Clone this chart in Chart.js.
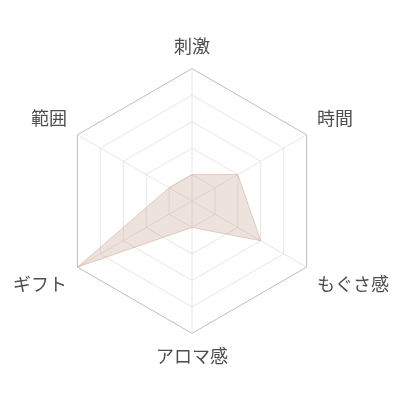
<!DOCTYPE html>
<html>
<head>
<meta charset="utf-8">
<script src="https://cdn.jsdelivr.net/npm/chart.js@4/dist/chart.umd.min.js"></script>
<style>
  html, body { margin: 0; padding: 0; background: #fff; }
  #wrap { width: 400px; height: 400px; }
</style>
</head>
<body>
<div id="wrap"><canvas id="myChart"></canvas></div>
<script>
// axes, clockwise from the top
const labels = ['刺激', '時間', 'もぐさ感', 'アロマ感', 'ギフト', '範囲'];
const scores = [1, 2, 3, 1, 5, 1];
const scaleMin = 0;
const scaleMax = 5;

const ctx = document.getElementById('myChart');
new Chart(ctx, {
  type: 'radar',
  data: {
    labels: labels,
    datasets: [
      {
        label: 'score',
        data: scores,
        backgroundColor: 'rgba(200,160,140,0.3)',
        borderColor: 'rgba(200,160,140,0.45)',
        borderWidth: 1,
        pointRadius: 0,
        pointHoverRadius: 0
      }
    ]
  },
  options: {
    responsive: true,
    maintainAspectRatio: false,
    animation: false,
    layout: { padding: { top: 4, bottom: 0, left: 6, right: -13 } },
    plugins: {
      legend: { display: false },
      tooltip: { enabled: false }
    },
    scales: {
      r: {
        min: scaleMin,
        max: scaleMax,
        ticks: { display: false, stepSize: 1 },
        grid: {
          color: (c) => c.index === 5 ? '#bdbdbd' : '#e6e6e6',
          lineWidth: 1
        },
        angleLines: { color: '#e6e6e6' },
        pointLabels: {
          color: '#4d4d4d',
          padding: 12,
          font: { family: '"Noto Sans CJK JP", "Noto Sans", sans-serif', size: 18 }
        }
      }
    }
  }
});
</script>
</body>
</html>
